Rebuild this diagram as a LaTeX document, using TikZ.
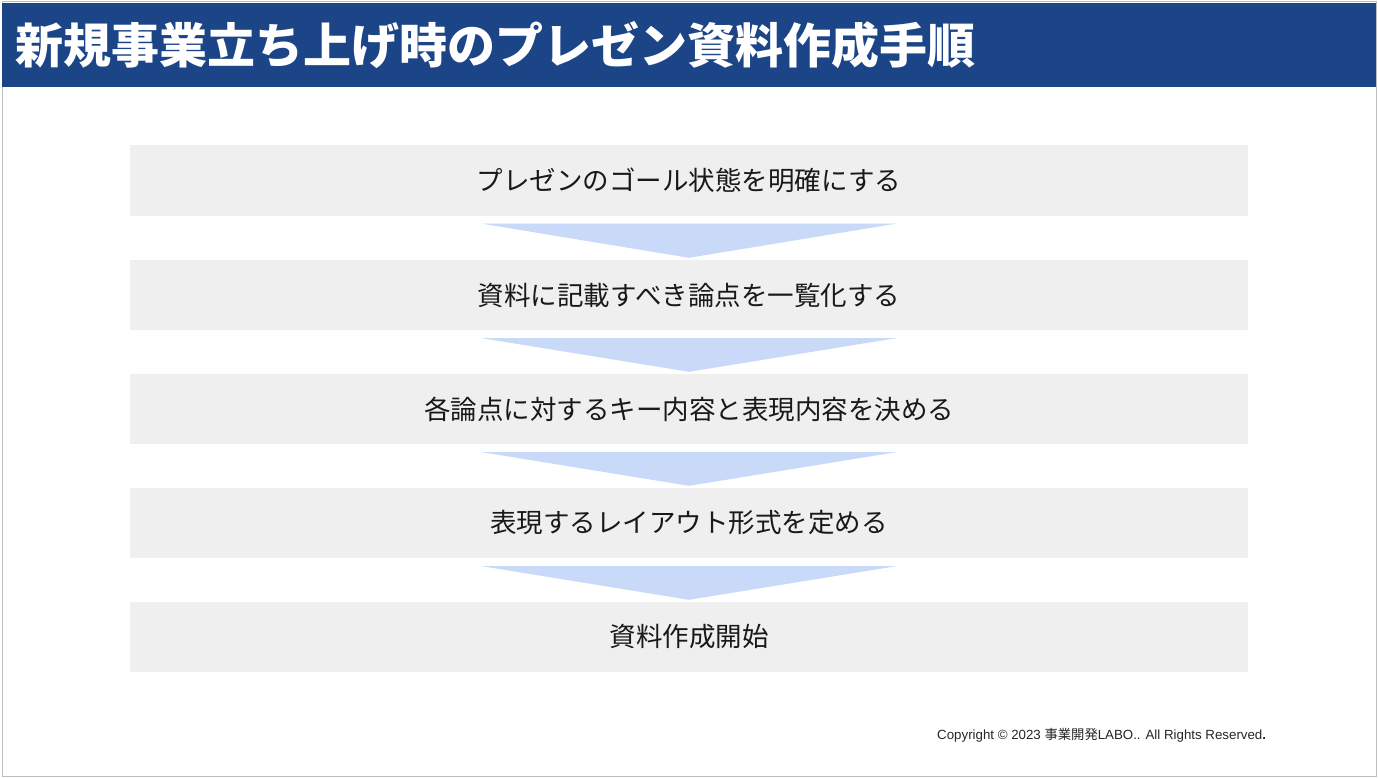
\documentclass[tikz,border=0pt]{standalone}
\usepackage{fontspec}
\newfontfamily\jp{Noto Sans CJK JP}
\newfontfamily\arial{Liberation Sans}
\definecolor{titleblue}{HTML}{1C4587}
\definecolor{boxgray}{HTML}{EFEFEF}
\definecolor{flowblue}{HTML}{C9DAF8}
\definecolor{framegray}{HTML}{BDBDBD}

\begin{document}
\begin{tikzpicture}[x=1pt,y=-1pt]

\tikzstyle{stepbox}=[shape=rectangle, fill=boxgray, inner sep=0pt,
    minimum width=1118pt, minimum height=70pt,
    font=\jp\fontsize{26.5}{30}\selectfont, text=black!90]
\tikzstyle{flowarrow}=[fill=flowblue]

  \useasboundingbox (0,0) rectangle (1378,778);
  \fill[white] (0,0) rectangle (1378,778);

  % frame and title bar
  \draw[framegray, line width=1pt] (2,2) rectangle (1376,776);
  \fill[titleblue] (2,3) rectangle (1376,87);
  \node[anchor=west, inner sep=0pt, text=white,
    font=\jp\bfseries\fontsize{48}{56}\selectfont] (title) at (15,45)
    {新規事業立ち上げ時のプレゼン資料作成手順};

  \node[stepbox] (goal) at (689,180.5) {プレゼンのゴール状態を明確にする};
  \node[stepbox] (points) at (689,295) {資料に記載すべき論点を一覧化する};
  \node[stepbox] (content) at (689,409) {各論点に対するキー内容と表現内容を決める};
  \node[stepbox] (layout) at (689,523) {表現するレイアウト形式を定める};
  \node[stepbox] (start) at (689,637) {資料作成開始};

  \fill[flowarrow] ([xshift=-207pt,yshift=-8pt]goal.south) -- ([xshift=207pt,yshift=-8pt]goal.south) -- ([yshift=2pt]points.north) -- cycle;
  \fill[flowarrow] ([xshift=-207pt,yshift=-8pt]points.south) -- ([xshift=207pt,yshift=-8pt]points.south) -- ([yshift=2pt]content.north) -- cycle;
  \fill[flowarrow] ([xshift=-207pt,yshift=-8pt]content.south) -- ([xshift=207pt,yshift=-8pt]content.south) -- ([yshift=2pt]layout.north) -- cycle;
  \fill[flowarrow] ([xshift=-207pt,yshift=-8pt]layout.south) -- ([xshift=207pt,yshift=-8pt]layout.south) -- ([yshift=2pt]start.north) -- cycle;

  % copyright
  \node[anchor=west, inner sep=0pt, text=black!85, font=\arial\fontsize{13.3}{15}\selectfont] (copy) at (937,735)
    {Copyright © 2023 {\jp 事業開発}LABO.. All Rights Reserved{\bfseries .}};

\end{tikzpicture}
\end{document}
